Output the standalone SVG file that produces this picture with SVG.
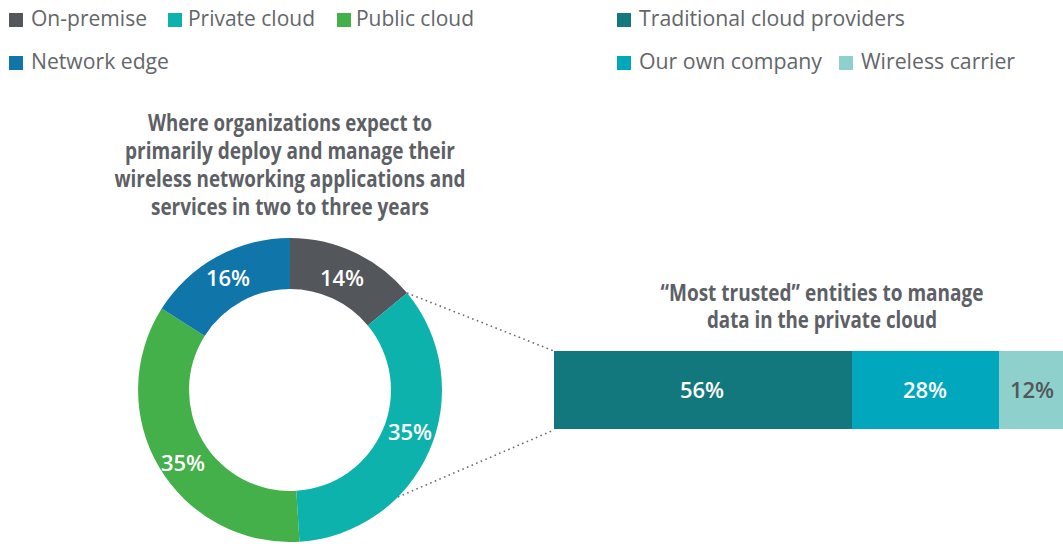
<svg xmlns="http://www.w3.org/2000/svg" width="1063" height="544" viewBox="0 0 1063 544">
<style>
.lg{font-family:"Open Sans","Liberation Sans",sans-serif;font-size:21px;fill:#63666a}
.ttl{font-family:"Open Sans","Liberation Sans",sans-serif;font-size:24px;font-weight:bold;fill:#5d6065;text-anchor:middle}
.pct{font-family:"Open Sans","Liberation Sans",sans-serif;font-size:22px;font-weight:600;fill:#ffffff;text-anchor:middle}
.conn{stroke:#6b6e72;stroke-width:1.6;stroke-dasharray:1.6 3.4;fill:none}
</style>
<rect width="1063" height="544" fill="#ffffff"/>
<g id="legend">
<g id="leg-onprem"><rect x="9" y="13" width="14" height="14" fill="#53565a"/><text class="lg" x="31" y="26" textLength="116" lengthAdjust="spacingAndGlyphs">On-premise</text></g>
<g id="leg-private"><rect x="168" y="13" width="14" height="14" fill="#0db2ac"/><text class="lg" x="188" y="26" textLength="127" lengthAdjust="spacingAndGlyphs">Private cloud</text></g>
<g id="leg-public"><rect x="337" y="13" width="14" height="14" fill="#43b049"/><text class="lg" x="356" y="26" textLength="118" lengthAdjust="spacingAndGlyphs">Public cloud</text></g>
<g id="leg-edge"><rect x="9" y="56" width="14" height="14" fill="#1075a9"/><text class="lg" x="31" y="69" textLength="138" lengthAdjust="spacingAndGlyphs">Network edge</text></g>
<g id="leg-trad"><rect x="617" y="13" width="14" height="14" fill="#13787d"/><text class="lg" x="639" y="26" textLength="266" lengthAdjust="spacingAndGlyphs">Traditional cloud providers</text></g>
<g id="leg-own"><rect x="617" y="56" width="14" height="14" fill="#00a7bd"/><text class="lg" x="639" y="69" textLength="183" lengthAdjust="spacingAndGlyphs">Our own company</text></g>
<g id="leg-wireless"><rect x="839" y="56" width="14" height="14" fill="#8ed0cb"/><text class="lg" x="861" y="69" textLength="154" lengthAdjust="spacingAndGlyphs">Wireless carrier</text></g>
</g>
<g id="donut-title">
<text class="ttl" x="290" y="131" textLength="284" lengthAdjust="spacingAndGlyphs">Where organizations expect to</text>
<text class="ttl" x="290" y="159" textLength="330" lengthAdjust="spacingAndGlyphs">primarily deploy and manage their</text>
<text class="ttl" x="290" y="187" textLength="351" lengthAdjust="spacingAndGlyphs">wireless networking applications and</text>
<text class="ttl" x="290" y="215" textLength="278" lengthAdjust="spacingAndGlyphs">services in two to three years</text>
</g>
<g id="connectors">
<line class="conn" x1="407" y1="293" x2="554" y2="351"/>
<line class="conn" x1="398" y1="497" x2="554" y2="430"/>
</g>
<g id="donut">
<g id="seg-onprem"><path d="M290,238 A152,152 0 0 1 407.1,293.1 L367.8,325.6 A101,101 0 0 0 290,289 Z" fill="#53565a"/><text class="pct" x="342" y="286">14%</text></g>
<g id="seg-private"><path d="M407.1,293.1 A152,152 0 0 1 299.5,541.7 L296.3,490.8 A101,101 0 0 0 367.8,325.6 Z" fill="#0db2ac"/><text class="pct" x="410" y="440">35%</text></g>
<g id="seg-public"><path d="M299.5,541.7 A152,152 0 0 1 161.7,308.6 L204.7,335.9 A101,101 0 0 0 296.3,490.8 Z" fill="#43b049"/><text class="pct" x="183" y="471">35%</text></g>
<g id="seg-edge"><path d="M161.7,308.6 A152,152 0 0 1 290,238 L290,289 A101,101 0 0 0 204.7,335.9 Z" fill="#1075a9"/><text class="pct" x="228" y="286">16%</text></g>
</g>
<g id="bar-title">
<text class="ttl" x="822" y="301" textLength="323" lengthAdjust="spacingAndGlyphs">“Most trusted” entities to manage</text>
<text class="ttl" x="822" y="328" textLength="230" lengthAdjust="spacingAndGlyphs">data in the private cloud</text>
</g>
<g id="bar">
<g id="bar-trad"><rect x="554" y="351" width="298" height="78" fill="#13787d"/><text class="pct" x="702" y="398">56%</text></g>
<g id="bar-own"><rect x="852" y="351" width="147" height="78" fill="#00a7bd"/><text class="pct" x="925" y="398">28%</text></g>
<g id="bar-wireless"><rect x="999" y="351" width="64" height="78" fill="#8ed0cb"/><text class="pct" x="1032" y="398" style="fill:#53565a">12%</text></g>
</g>
</svg>
